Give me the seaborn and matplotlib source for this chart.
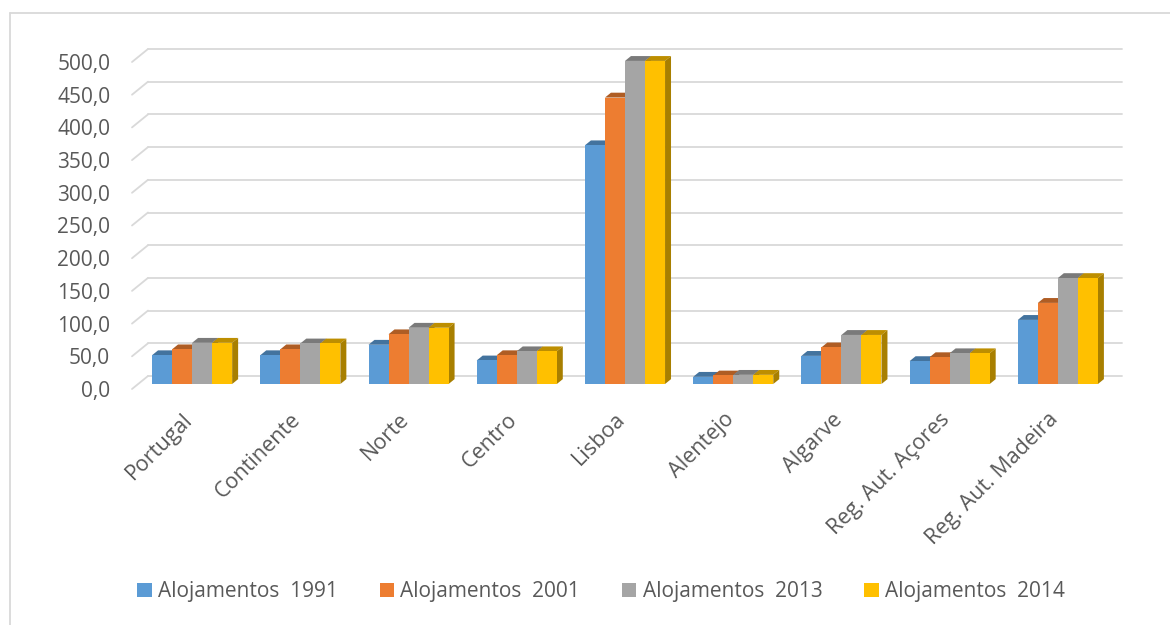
import numpy as np
import pandas as pd
import matplotlib
matplotlib.use("Agg")
import matplotlib.pyplot as plt
import seaborn as sns
from matplotlib.patheffects import AbstractPathEffect
from matplotlib.path import Path
from matplotlib.lines import Line2D
from matplotlib.transforms import Affine2D, ScaledTranslation, IdentityTransform, blended_transform_factory
from matplotlib.ticker import FuncFormatter

# Alojamentos por região
regioes = ["Portugal", "Continente", "Norte", "Centro", "Lisboa", "Alentejo",
           "Algarve", "Reg. Aut. Açores", "Reg. Aut. Madeira"]
aloj_1991 = [44, 44, 60, 36, 365, 11, 43, 35, 98]
aloj_2001 = [53, 53, 76, 44, 438, 13, 56, 41, 124]
aloj_2013 = [63, 62, 86, 50, 494, 14, 75, 47, 162]
aloj_2014 = [63, 62, 86, 50, 494, 14, 75, 47, 162]
series = ["Alojamentos  1991", "Alojamentos  2001", "Alojamentos  2013", "Alojamentos  2014"]
cores = ["#5B9BD5", "#ED7D31", "#A5A5A5", "#FFC000"]

df = pd.DataFrame({"Regiao": regioes, series[0]: aloj_1991, series[1]: aloj_2001,
                   series[2]: aloj_2013, series[3]: aloj_2014})
df = df.melt(id_vars="Regiao", var_name="Serie", value_name="Valor")


# efeito 3D simples: topo e lado mais escuros
class Bevel(AbstractPathEffect):
    def __init__(self, dx=4.3, dy=3.5):
        super().__init__()
        self.dx, self.dy = dx, dy

    def draw_path(self, renderer, gc, tpath, affine, rgbFace=None):
        v = affine.transform(tpath.vertices)
        x0, y0 = v.min(axis=0)
        x1, y1 = v.max(axis=0)
        dx = renderer.points_to_pixels(self.dx)
        dy = renderer.points_to_pixels(self.dy)
        face = np.array(rgbFace[:3])
        g = renderer.new_gc()
        g.copy_properties(gc)
        g.set_linewidth(0)
        topo = Path([(x0, y1), (x0 + dx, y1 + dy), (x1 + dx, y1 + dy), (x1, y1), (x0, y1)], closed=True)
        lado = Path([(x1, y0), (x1 + dx, y0 + dy), (x1 + dx, y1 + dy), (x1, y1), (x1, y0)], closed=True)
        renderer.draw_path(g, topo, Affine2D(), tuple(face * 0.74))
        renderer.draw_path(g, lado, Affine2D(), tuple(face * 0.66))
        g.restore()
        renderer.draw_path(gc, tpath, affine, rgbFace)


sns.set_style("white")
plt.rcParams["font.family"] = ["Open Sans", "DejaVu Sans"]
cor_texto = "#595959"

fig = plt.figure(figsize=(11.7, 6.25), dpi=100)
ax = fig.add_axes([138 / 1170, 241 / 625, 974 / 1170, 327 / 625])

sns.barplot(data=df, x="Regiao", y="Valor", hue="Serie", palette=cores,
            width=0.74, gap=0, linewidth=0, saturation=1, errorbar=None, ax=ax)

for cont in ax.containers:
    for barra in cont:
        barra.set_path_effects([Bevel()])
        barra.set_clip_on(False)

ax.set_xlim(-0.5, len(regioes) - 0.5)
ax.set_ylim(0, 500)
ticks = np.arange(0, 501, 50)
ax.set_yticks(ticks)
ax.yaxis.set_major_formatter(FuncFormatter(lambda v, p: f"{v:.1f}".replace(".", ",")))
ax.set_xlabel("")
ax.set_ylabel("")
sns.despine(ax=ax, left=True, bottom=True)
ax.tick_params(axis="y", length=0, pad=20, labelsize=15, labelcolor=cor_texto)
ax.tick_params(axis="x", length=0, pad=18, labelsize=15.5, labelcolor=cor_texto)
plt.setp(ax.get_xticklabels(), rotation=45, ha="right", rotation_mode="anchor")
for lab in ax.get_yticklabels():
    lab.set_transform(lab.get_transform() + ScaledTranslation(0, -5 / 100, fig.dpi_scale_trans))
for lab in ax.get_xticklabels():
    lab.set_transform(lab.get_transform() + ScaledTranslation(-10 / 100, 0, fig.dpi_scale_trans))

# grelha na parede do fundo
fundo = blended_transform_factory(ax.transAxes, ax.transData) + ScaledTranslation(10 / 100, 8 / 100, fig.dpi_scale_trans)
disp = blended_transform_factory(ax.transAxes, ax.transData)
for t in ticks:
    ax.plot([0, 1], [t, t], transform=fundo, color="#D9D9D9", lw=1.3, clip_on=False, zorder=0)
    x0, y0 = disp.transform((0, t))
    ax.add_line(Line2D([x0 - 6, x0 + 10], [y0 - 5, y0 + 8], transform=IdentityTransform(),
                       color="#D9D9D9", lw=1.3, clip_on=False, zorder=0))

h, l = ax.get_legend_handles_labels()
ax.legend(h, l, loc="center", bbox_to_anchor=(601 / 1170, 0.053), bbox_transform=fig.transFigure,
          ncol=4, frameon=False, fontsize=15, handlelength=0.7, handleheight=0.7,
          handletextpad=0.3, columnspacing=2.0, labelcolor=cor_texto)

# moldura do gráfico
fig.add_artist(Line2D([10 / 1170, 10 / 1170], [0, 1 - 13 / 625], color="#D9D9D9", lw=1.3))
fig.add_artist(Line2D([10 / 1170, 1], [1 - 13 / 625, 1 - 13 / 625], color="#D9D9D9", lw=1.3))

fig.savefig("out.png", dpi=100)
